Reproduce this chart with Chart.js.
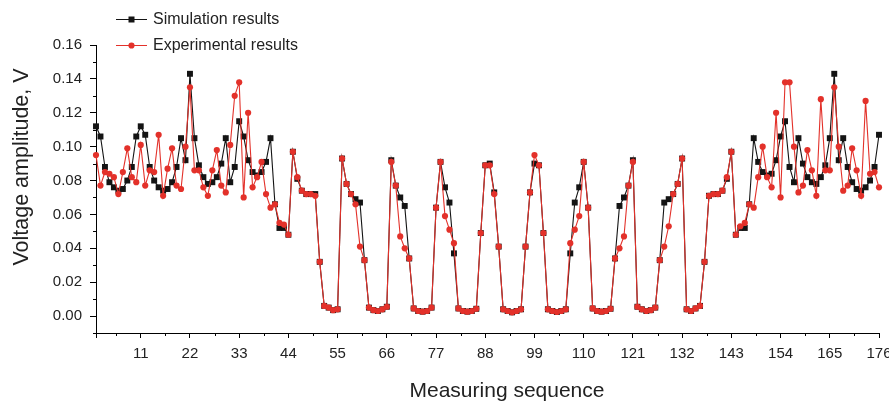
<!DOCTYPE html>
<html>
<head>
<meta charset="utf-8">
<script src="https://cdn.jsdelivr.net/npm/chart.js@4.4.1/dist/chart.umd.min.js"></script>
<style>
  html, body { margin: 0; padding: 0; background: #ffffff; }
  #wrap { position: relative; width: 889px; height: 402px; }
</style>
</head>
<body>
<div id="wrap"><canvas id="c" width="889" height="402"></canvas></div>
<script>
// ---------------- data ----------------
const seriesNames = ["Simulation results", "Experimental results"];

const simulation = [
  0.112, 0.106, 0.088, 0.079, 0.076, 0.074, 0.075, 0.080, 0.088, 0.106,
  0.112, 0.107, 0.088, 0.080, 0.076, 0.074, 0.075, 0.079, 0.088, 0.105,
  0.092, 0.143, 0.105, 0.089, 0.082, 0.078, 0.079, 0.082, 0.090, 0.105,
  0.079, 0.088, 0.115, 0.106, 0.092, 0.085, 0.083, 0.085, 0.091, 0.105,
  0.066, 0.052, 0.052, 0.048, 0.097, 0.081, 0.074, 0.072, 0.072, 0.072,
  0.032, 0.006, 0.005, 0.0035, 0.004, 0.093, 0.078, 0.072, 0.069, 0.067,
  0.033, 0.005, 0.0035, 0.003, 0.004, 0.0055, 0.092, 0.077, 0.070, 0.065,
  0.034, 0.0045, 0.003, 0.0026, 0.003, 0.005, 0.064, 0.091, 0.076, 0.067,
  0.037, 0.0045, 0.003, 0.0026, 0.003, 0.0043, 0.049, 0.089, 0.090, 0.073,
  0.041, 0.004, 0.003, 0.0022, 0.003, 0.004, 0.041, 0.073, 0.090, 0.089,
  0.049, 0.004, 0.003, 0.0024, 0.003, 0.004, 0.037, 0.067, 0.076, 0.091,
  0.064, 0.0045, 0.003, 0.0026, 0.003, 0.0043, 0.034, 0.065, 0.070, 0.077,
  0.092, 0.0055, 0.004, 0.003, 0.0035, 0.005, 0.033, 0.067, 0.069, 0.072,
  0.078, 0.093, 0.004, 0.003, 0.0045, 0.006, 0.032, 0.071, 0.072, 0.072,
  0.074, 0.081, 0.097, 0.048, 0.052, 0.052, 0.066, 0.105, 0.091, 0.085,
  0.083, 0.084, 0.092, 0.106, 0.115, 0.088, 0.079, 0.105, 0.090, 0.082,
  0.079, 0.078, 0.082, 0.089, 0.105, 0.143, 0.092, 0.105, 0.088, 0.079,
  0.075, 0.074, 0.076, 0.080, 0.088, 0.107
];

const experimental = [
  0.095, 0.077, 0.085, 0.084, 0.082, 0.072, 0.085, 0.099, 0.082, 0.079,
  0.101, 0.077, 0.086, 0.085, 0.107, 0.071, 0.087, 0.099, 0.077, 0.075,
  0.100, 0.135, 0.086, 0.086, 0.076, 0.071, 0.086, 0.098, 0.077, 0.073,
  0.101, 0.130, 0.138, 0.070, 0.120, 0.076, 0.082, 0.091, 0.072, 0.064,
  0.066, 0.055, 0.054, 0.048, 0.097, 0.082, 0.074, 0.072, 0.072, 0.071,
  0.032, 0.006, 0.005, 0.0035, 0.004, 0.093, 0.078, 0.072, 0.066, 0.041,
  0.033, 0.005, 0.0035, 0.003, 0.004, 0.0055, 0.091, 0.077, 0.047, 0.040,
  0.034, 0.0045, 0.003, 0.0026, 0.003, 0.005, 0.064, 0.091, 0.059, 0.051,
  0.043, 0.0045, 0.003, 0.0026, 0.003, 0.0043, 0.049, 0.089, 0.089, 0.072,
  0.041, 0.004, 0.003, 0.0022, 0.003, 0.004, 0.041, 0.073, 0.095, 0.089,
  0.049, 0.004, 0.003, 0.0024, 0.003, 0.004, 0.043, 0.051, 0.059, 0.091,
  0.064, 0.0045, 0.003, 0.0026, 0.003, 0.0043, 0.034, 0.040, 0.047, 0.077,
  0.091, 0.0055, 0.004, 0.003, 0.0035, 0.005, 0.033, 0.041, 0.053, 0.072,
  0.078, 0.093, 0.004, 0.003, 0.0045, 0.006, 0.032, 0.071, 0.072, 0.072,
  0.074, 0.082, 0.097, 0.048, 0.053, 0.055, 0.066, 0.064, 0.082, 0.100,
  0.082, 0.076, 0.120, 0.070, 0.138, 0.138, 0.100, 0.073, 0.077, 0.098,
  0.086, 0.071, 0.128, 0.086, 0.086, 0.135, 0.100, 0.074, 0.077, 0.099,
  0.086, 0.071, 0.127, 0.084, 0.085, 0.076
];

// measuring sequence numbers (categories)
const sequence = [];
for (let i = 1; i <= simulation.length; i++) sequence.push(i);

const xTickValues = [11, 22, 33, 44, 55, 66, 77, 88, 99, 110, 121, 132, 143, 154, 165, 176];
const xMinorTicks = [5.5, 16.5, 27.5, 38.5, 49.5, 60.5, 71.5, 82.5, 93.5, 104.5, 115.5, 126.5, 137.5, 148.5, 159.5, 170.5];
const yTickValues = [0.00, 0.02, 0.04, 0.06, 0.08, 0.10, 0.12, 0.14, 0.16];
const yMinorTicks = [-0.01, 0.01, 0.03, 0.05, 0.07, 0.09, 0.11, 0.13, 0.15];

const xTitle = "Measuring sequence";
const yTitle = "Voltage amplitude, V";

// ---------------- styling ----------------
const FONT = '"Liberation Sans", Arial, Helvetica, sans-serif';
const BLACK = '#141414';
const RED = '#e3312a';
const TEXT = '#222222';

const decor = {
  id: 'decor',
  afterDraw(chart) {
    const ctx = chart.ctx;
    const xs = chart.scales.x, ys = chart.scales.y;
    ctx.save();
    ctx.strokeStyle = '#000';
    ctx.lineWidth = 1;
    // x start tick and minor ticks
    const axY = ys.bottom;
    const x1 = Math.round(xs.getPixelForValue(1)) + 0.5;
    ctx.beginPath(); ctx.moveTo(x1, axY); ctx.lineTo(x1, axY + 5); ctx.stroke();
    xMinorTicks.forEach(v => {
      const px = Math.round(xs.getPixelForValue(v)) + 0.5;
      ctx.beginPath(); ctx.moveTo(px, axY); ctx.lineTo(px, axY + 3); ctx.stroke();
    });
    // y minor ticks
    const axX = xs.left;
    yMinorTicks.forEach(v => {
      const py = Math.round(ys.getPixelForValue(v)) + 0.5;
      ctx.beginPath(); ctx.moveTo(axX, py); ctx.lineTo(axX - 3, py); ctx.stroke();
    });

    // legend
    ctx.textBaseline = 'middle';
    ctx.textAlign = 'left';
    ctx.font = '16px ' + FONT;
    // simulation
    ctx.strokeStyle = BLACK; ctx.lineWidth = 1;
    ctx.beginPath(); ctx.moveTo(116, 19.5); ctx.lineTo(147, 19.5); ctx.stroke();
    ctx.fillStyle = BLACK;
    ctx.fillRect(128.5, 16.5, 6, 6);
    ctx.fillStyle = TEXT;
    ctx.fillText(seriesNames[0], 153, 19.5);
    // experimental
    ctx.strokeStyle = RED;
    ctx.beginPath(); ctx.moveTo(116, 45.5); ctx.lineTo(147, 45.5); ctx.stroke();
    ctx.fillStyle = RED;
    ctx.beginPath(); ctx.arc(131.5, 45.5, 3.1, 0, Math.PI * 2); ctx.fill();
    ctx.fillStyle = TEXT;
    ctx.fillText(seriesNames[1], 153, 45.5);

    // axis titles
    ctx.fillStyle = TEXT;
    ctx.font = '21px ' + FONT;
    ctx.textAlign = 'center';
    ctx.fillText(xTitle, 507, 391);
    ctx.save();
    ctx.translate(22, 167);
    ctx.rotate(-Math.PI / 2);
    ctx.font = '21.5px ' + FONT;
    ctx.fillText(yTitle, 0, 0);
    ctx.restore();
    ctx.restore();
  }
};

const ctx = document.getElementById('c').getContext('2d');
new Chart(ctx, {
  type: 'line',
  data: {
    datasets: [
      {
        label: seriesNames[0],
        data: sequence.map((x, i) => ({ x: x, y: simulation[i] })),
        borderColor: BLACK,
        backgroundColor: BLACK,
        borderWidth: 1.1,
        pointStyle: 'rect',
        pointRadius: 4.2,
        pointBorderWidth: 0,
        tension: 0,
        clip: false,
        order: 2
      },
      {
        label: seriesNames[1],
        data: sequence.map((x, i) => ({ x: x, y: experimental[i] })),
        borderColor: RED,
        backgroundColor: RED,
        borderWidth: 1.1,
        pointStyle: 'circle',
        pointRadius: 3.1,
        pointBorderWidth: 0,
        tension: 0,
        clip: false,
        order: 1
      }
    ]
  },
  options: {
    responsive: false,
    animation: false,
    events: [],
    layout: { padding: { top: 45, right: 10, left: 0, bottom: 0 } },
    plugins: { legend: { display: false }, tooltip: { enabled: false } },
    scales: {
      x: {
        type: 'linear',
        min: 1,
        max: 176,
        afterBuildTicks: s => { s.ticks = xTickValues.map(v => ({ value: v })); },
        afterFit: s => { s.height = 69; s.paddingLeft = 0; s.paddingRight = 0; },
        grid: { display: true, drawOnChartArea: false, drawTicks: true, tickLength: 5, color: '#000', lineWidth: 1 },
        border: { display: true, color: '#000', width: 1 },
        ticks: {
          autoSkip: false, maxRotation: 0, minRotation: 0, padding: 7,
          color: TEXT, font: { family: FONT, size: 15 },
          callback: v => String(v)
        }
      },
      y: {
        type: 'linear',
        min: -0.01,
        max: 0.16,
        afterBuildTicks: s => { s.ticks = yTickValues.map(v => ({ value: v })); },
        afterFit: s => { s.width = 96; s.paddingTop = 0; s.paddingBottom = 0; },
        grid: { display: true, drawOnChartArea: false, drawTicks: true, tickLength: 6, color: '#000', lineWidth: 1 },
        border: { display: true, color: '#000', width: 1 },
        ticks: {
          padding: 8,
          color: TEXT, font: { family: FONT, size: 15 },
          callback: v => Number(v).toFixed(2)
        }
      }
    }
  },
  plugins: [decor]
});
</script>
</body>
</html>
